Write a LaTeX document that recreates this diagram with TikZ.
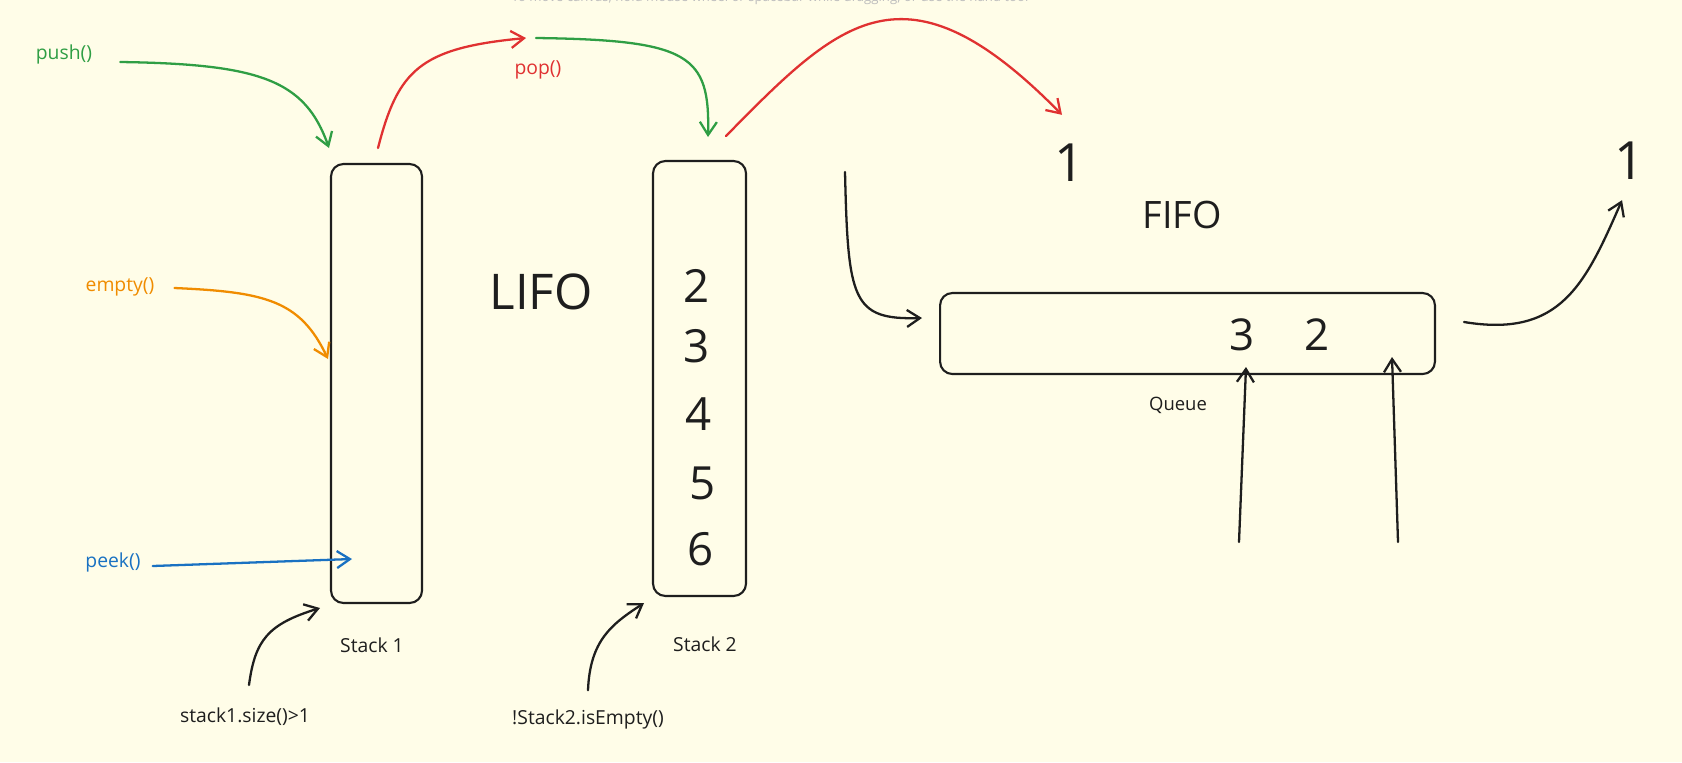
\documentclass[tikz,border=0pt]{standalone}
\usepackage{fontspec}
\setmainfont{Open Sans}
\usetikzlibrary{arrows.meta,positioning}
\definecolor{paper}{HTML}{FFFDE8}
\definecolor{xgreen}{HTML}{2F9E44}
\definecolor{xred}{HTML}{E03131}
\definecolor{xorange}{HTML}{F08C00}
\definecolor{xblue}{HTML}{1971C2}
\definecolor{ink}{HTML}{1E1E1E}
\definecolor{hint}{HTML}{BDBDBD}

\begin{document}
\begin{tikzpicture}[
  x=0.02cm, y=-0.02cm,
  stackbox/.style={draw=ink, line width=1.2pt, rounded corners=7pt},
  arrow/.style={-{Straight Barb[length=2.6mm,width=3.4mm]}, line width=1.3pt, line cap=round},
  lbl/.style={font=\fontsize{11}{13}\selectfont, inner sep=1pt},
  bignum/.style={font=\fontsize{26}{30}\selectfont, text=ink, inner sep=0pt},
  title/.style={font=\fontsize{28}{32}\selectfont, text=ink, inner sep=0pt}
]
\fill[paper] (0,0) rectangle (1682,762);
\useasboundingbox (0,0) rectangle (1682,762);

% canvas hint, cut by the top edge
\node[anchor=base, text=hint, font=\fontsize{7.5}{9}\selectfont, inner sep=0pt] (hintline) at (770,1)
  {To move canvas, hold mouse wheel or spacebar while dragging, or use the hand tool};

% containers
\node[stackbox, minimum width=1.82cm, minimum height=8.78cm] (stack1) at (376.5,383.5) {};
\node[stackbox, minimum width=1.86cm, minimum height=8.70cm] (stack2) at (699.5,378.5) {};
\node[stackbox, minimum width=9.90cm, minimum height=1.62cm] (queue) at (1187.5,333.5) {};

% labels
\node[lbl, text=xgreen] (push) at (64,54) {push()};
\node[lbl, text=xred] (pop) at (538,70) {pop()};
\node[lbl, text=xorange] (empty) at (120,287) {empty()};
\node[lbl, text=xblue] (peek) at (113,562) {peek()};
\node[lbl, text=ink] (s1lbl) at (372,645) {Stack 1};
\node[lbl, text=ink] (s2lbl) at (705,644) {Stack 2};
\node[lbl, text=ink] (cond1) at (245,717) {stack1.size()>1};
\node[lbl, text=ink] (cond2) at (588,719) {!Stack2.isEmpty()};
\node[lbl, text=ink, font=\fontsize{10.5}{12}\selectfont] (qlbl) at (1178,405) {Queue};
\node[title] (lifo) at (541,292) {LIFO};
\node[title, font=\fontsize{21.5}{25}\selectfont] (fifo) at (1182,215) {FIFO};

% stack 2 contents
\node[bignum] (n2) at (697,286) {2};
\node[bignum] (n3) at (697,346) {3};
\node[bignum] (n4) at (699,414) {4};
\node[bignum] (n5) at (703,483) {5};
\node[bignum] (n6) at (701,549) {6};

% queue contents
\node[bignum, font=\fontsize{25}{29}\selectfont] (q3) at (1242,335) {3};
\node[bignum, font=\fontsize{25}{29}\selectfont] (q2) at (1317,335) {2};
\node[bignum, font=\fontsize{30}{34}\selectfont] (out1) at (1070,163) {1};
\node[bignum, font=\fontsize{30}{34}\selectfont] (out2) at (1630,161) {1};

% free ends
\coordinate (pushin) at (329,148);
\coordinate (popout) at (378,148);
\coordinate (popmid) at (526,38);
\coordinate (movestart) at (536,38);
\coordinate (movein) at (708,137);
\coordinate (arcstart) at (726,136);
\coordinate (emptyin) at (328,359);
\coordinate (peekin) at (352,559);
\coordinate (c1in) at (320,608);
\coordinate (c2in) at (644,603);
\coordinate (qstart) at (845,172);
\coordinate (qin) at (922,318);
\coordinate (qout) at (1464,322);
\coordinate (up1a) at (1239,542);
\coordinate (up1b) at (1246,367);
\coordinate (up2a) at (1398,542);
\coordinate (up2b) at (1392,357);

% connectors
\draw[arrow, xgreen] ([shift={(26,8)}]push.east) .. controls (260,64) and (305,80) .. (pushin);
\draw[arrow, xred] (popout) .. controls (398,70) and (420,48) .. (popmid);
\draw[arrow, xgreen] (movestart) .. controls (690,40) and (710,55) .. (movein);
\draw[arrow, xred] (arcstart) .. controls (840,20) and (905,-45) .. ([shift={(-8,-29)}]out1.north);
\draw[arrow, xorange] ([shift={(18,1)}]empty.east) .. controls (265,292) and (300,300) .. (emptyin);
\draw[arrow, xblue] ([shift={(10,4)}]peek.east) -- (peekin);
\draw[arrow, ink] ([shift={(4,-21)}]cond1.north) .. controls (255,640) and (268,624) .. (c1in);
\draw[arrow, ink] ([shift={(0,-17)}]cond2.north) .. controls (590,640) and (612,624) .. (c2in);
\draw[arrow, ink] (qstart) .. controls (848,300) and (852,320) .. (qin);
\draw[arrow, ink] (qout) .. controls (1560,338) and (1585,285) .. ([shift={(-8,20)}]out2.south);
\draw[arrow, ink] (up1a) -- (up1b);
\draw[arrow, ink] (up2a) -- (up2b);
\end{tikzpicture}
\end{document}
